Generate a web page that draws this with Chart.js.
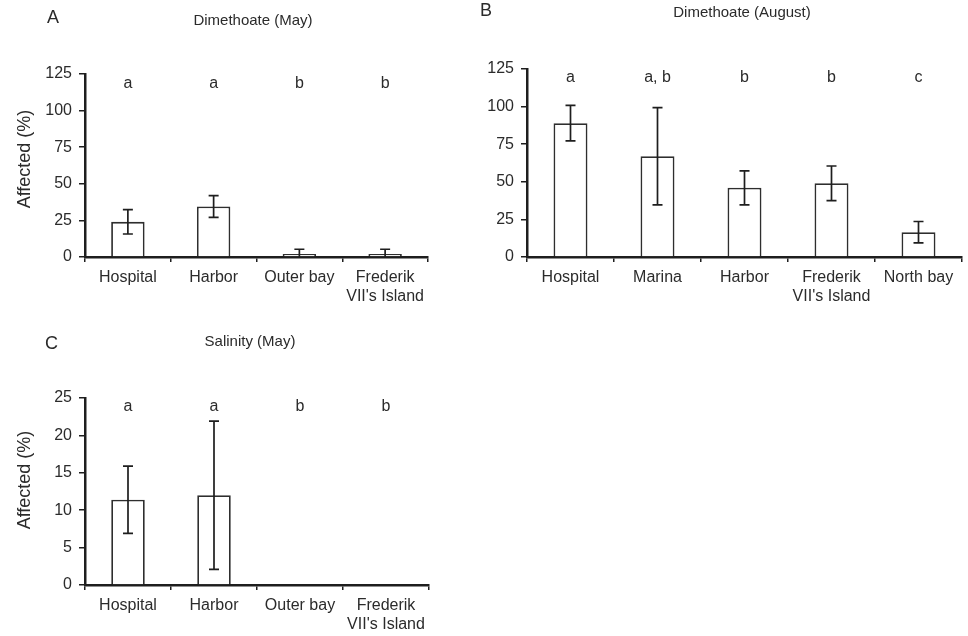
<!DOCTYPE html>
<html>
<head>
<meta charset="utf-8">
<script src="https://cdn.jsdelivr.net/npm/chart.js@4.4.1/dist/chart.umd.min.js"></script>
<style>
  html, body { margin: 0; padding: 0; background: #fff; }
  body { width: 968px; height: 636px; position: relative; overflow: hidden; }
  canvas { position: absolute; }
</style>
</head>
<body>
<canvas id="cA" width="440" height="320" style="left:0;top:0;width:440px;height:320px"></canvas>
<canvas id="cB" width="528" height="320" style="left:440px;top:0;width:528px;height:320px"></canvas>
<canvas id="cC" width="440" height="316" style="left:0;top:320px;width:440px;height:316px"></canvas>
<script>
// ---- data ----
const catsA = ['Hospital', 'Harbor', 'Outer bay', ['Frederik', "VII's Island"]];
const valsA = [24, 34.5, 2, 2];
const errA  = [8.3, 7.4, 3.3, 3.3];
const sigA  = ['a', 'a', 'b', 'b'];

const catsB = ['Hospital', 'Marina', 'Harbor', ['Frederik', "VII's Island"], 'North bay'];
const valsB = [89, 67, 46, 49, 16.5];
const errB  = [11.8, 32.3, 11.3, 11.5, 7.1];
const sigB  = ['a', 'a, b', 'b', 'b', 'c'];

const catsC = ['Hospital', 'Harbor', 'Outer bay', ['Frederik', "VII's Island"]];
const valsC = [11.4, 12, 0, 0];
const errC  = [4.5, 9.9, 0, 0];
const sigC  = ['a', 'a', 'b', 'b'];

const ticksA = { min: 0, max: 125, step: 25 };
const ticksB = { min: 0, max: 125, step: 25 };
const ticksC = { min: 0, max: 25, step: 5 };

// ---- styling ----
const FONT = "'Liberation Sans', Arial, sans-serif";
const TXT = '#2b2b2b';
const AX = '#1e1e1e';
Chart.defaults.font.family = FONT;
Chart.defaults.color = TXT;

const extrasPlugin = {
  id: 'extras',
  afterDatasetsDraw(chart, args, opts) {
    const ctx = chart.ctx;
    const xs = chart.scales.x, ys = chart.scales.y;
    const ca = chart.chartArea;
    ctx.save();
    // error bars
    ctx.strokeStyle = AX;
    ctx.lineWidth = 1.7;
    opts.vals.forEach((v, i) => {
      const e = opts.err[i];
      if (!e) return;
      const x = xs.getPixelForValue(i);
      const hi = ys.getPixelForValue(v + e);
      const lowV = Math.max(0, v - e);
      const lo = ys.getPixelForValue(lowV);
      ctx.beginPath();
      ctx.moveTo(x, hi); ctx.lineTo(x, lo);
      ctx.moveTo(x - 5, hi); ctx.lineTo(x + 5, hi);
      if (v - e > 0) { ctx.moveTo(x - 5, lo); ctx.lineTo(x + 5, lo); }
      ctx.stroke();
    });
    // significance letters
    ctx.fillStyle = TXT;
    ctx.font = '16px ' + FONT;
    ctx.textAlign = 'center';
    ctx.textBaseline = 'middle';
    opts.sig.forEach((s, i) => {
      ctx.fillText(s, xs.getPixelForValue(i), ca.top + opts.sigDy);
    });
    // titles
    ctx.font = '15px ' + FONT;
    ctx.fillText(opts.title, opts.titleX, opts.titleY);
    ctx.font = '18px ' + FONT;
    ctx.textAlign = 'left';
    ctx.fillText(opts.letter, opts.letterX, opts.letterY);
    if (opts.yTitle) {
      ctx.save();
      ctx.translate(opts.yTitleX, opts.yTitleY);
      ctx.rotate(-Math.PI / 2);
      ctx.textAlign = 'center';
      ctx.font = '18px ' + FONT;
      ctx.fillText(opts.yTitle, 0, 0);
      ctx.restore();
    }
    ctx.restore();
  }
};

function makeChart(id, cats, vals, err, sig, tk, layout, extra) {
  return new Chart(document.getElementById(id), {
    type: 'bar',
    data: {
      labels: cats,
      datasets: [{
        data: vals,
        backgroundColor: '#ffffff',
        borderColor: '#2e2e2e',
        borderWidth: 1.8,
        barPercentage: 0.39,
        categoryPercentage: 1.0
      }]
    },
    options: {
      responsive: false,
      animation: false,
      devicePixelRatio: 1,
      layout: { padding: { top: layout.top, right: layout.right, left: 0, bottom: 0 } },
      plugins: {
        legend: { display: false },
        tooltip: { enabled: false },
        extras: Object.assign({ vals, err, sig }, extra)
      },
      scales: {
        x: {
          grid: { display: true, drawOnChartArea: false, drawTicks: true, tickLength: 5, color: AX, lineWidth: 1.5, offset: true },
          border: { display: true, color: AX, width: 2.5 },
          ticks: { font: { size: 16, lineHeight: 1.2 }, color: TXT, padding: 6, maxRotation: 0, autoSkip: false },
          afterFit(s) { s.height = layout.xh; }
        },
        y: {
          min: tk.min, max: tk.max,
          grid: { display: true, drawOnChartArea: false, drawTicks: true, tickLength: 6, color: AX, lineWidth: 1.5 },
          border: { display: true, color: AX, width: 2.5 },
          ticks: { stepSize: tk.step, font: { size: 16 }, color: TXT, padding: 7 },
          afterFit(s) { s.width = layout.yw; }
        }
      }
    },
    plugins: [extrasPlugin]
  });
}

makeChart('cA', catsA, valsA, errA, sigA, ticksA,
  { top: 74, right: 12, xh: 63, yw: 85 },
  { sigDy: 10, title: 'Dimethoate (May)', titleX: 253, titleY: 21, letter: 'A', letterX: 47, letterY: 18,
    yTitle: 'Affected (%)', yTitleX: 25, yTitleY: 159 });

makeChart('cB', catsB, valsB, errB, sigB, ticksB,
  { top: 69, right: 6, xh: 63, yw: 87 },
  { sigDy: 9, title: 'Dimethoate (August)', titleX: 302, titleY: 13, letter: 'B', letterX: 40, letterY: 11,
    yTitle: '' });

makeChart('cC', catsC, valsC, errC, sigC, ticksC,
  { top: 78, right: 11, xh: 51, yw: 85 },
  { sigDy: 9, title: 'Salinity (May)', titleX: 250, titleY: 22, letter: 'C', letterX: 45, letterY: 24,
    yTitle: 'Affected (%)', yTitleX: 25, yTitleY: 160 });
</script>
</body>
</html>
